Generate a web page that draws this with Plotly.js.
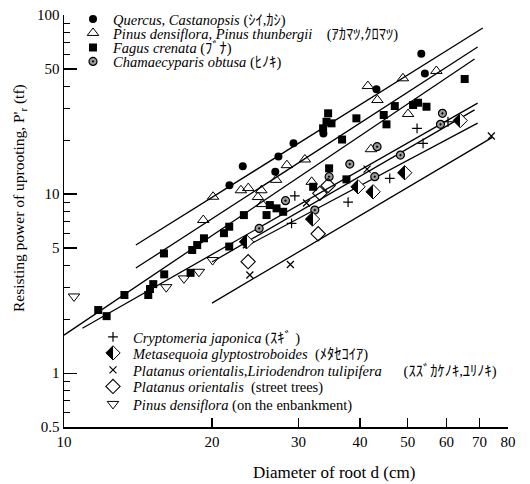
<!DOCTYPE html>
<html>
<head>
<meta charset="utf-8">
<script src="https://cdn.plot.ly/plotly-3.0.1.min.js"></script>
<style>html,body{margin:0;padding:0;background:#fff;}#chart{width:530px;height:484px;}</style>
</head>
<body>
<div id="chart"></div>
<script>
// ---- data (diameter d in cm, resisting power P'r in tf) ----
const quercusD = [21.7, 23.1, 26.9, 27.3, 29.3, 33.7, 43.2, 53.3, 54.2];
const quercusP = [11.2, 14.3, 13.3, 16.2, 19.2, 21.8, 38.5, 60.8, 47.2];

const pinusD = [19.2, 20.1, 22.9, 23.7, 25.2, 24.8, 25.3, 27.0, 28.4, 30.9, 31.9, 41.5, 42.1, 43.4, 48.9, 50.1, 57.2];
const pinusP = [7.16, 9.66, 10.5, 10.8, 10.5, 9.62, 8.79, 12.0, 14.5, 15.6, 11.7, 40.1, 17.8, 33.5, 44.3, 28.0, 48.7];

const fagusD = [11.74,12.21,13.27,14.84,14.96,15.19,15.99,15.97,18.09,18.23,18.66,19.26,21.15,21.68,21.68,23.22,25.82,26.22,27.06,27.91,32.12,34.61,37.54,36.78,34.45,34.19,33.65,35.0,39.33,44.70,45.28,47.08,51.29,52.50,54.61,65.31];
const fagusP = [2.25,2.08,2.73,2.73,2.95,3.14,3.56,4.66,3.63,4.87,5.19,5.66,6.05,6.57,5.09,7.63,7.63,8.68,8.32,7.96,10.98,13.92,12.08,20.16,28.24,25.34,23.28,24.83,26.48,27.63,24.51,31.01,31.42,32.36,30.74,43.90];

const chamD = [24.94,28.22,32.37,34.61,38.13,42.86,43.33,48.34,58.85,58.31];
const chamP = [6.43,9.18,8.14,12.50,14.71,12.50,18.38,16.51,28.24,24.51];

const cryptoD = [29.48,29.03,37.83,45.98,52.25,53.74,60.40];
const cryptoP = [9.78,6.86,9.02,12.24,23.28,19.20,25.34];

const metaD = [23.51,32.03,39.63,42.53,49.32,63.96];
const metaP = [5.41,7.25,10.98,10.30,13.15,25.74];

const platD = [23.88,28.87,31.14,41.35,74.0];
const platP = [3.53,4.04,8.91,13.79,21.09];

const streetD = [23.69,32.88,33.14,34.45];
const streetP = [4.19,6.00,10.09,11.15];

const embD = [10.48,16.14,17.54,18.81,20.06];
const embP = [2.68,3.02,3.38,3.68,4.28];

// regression lines: end points
const lineStartD = [14.0, 14.0, 10.0, 10.9, 20.0, 23.1, 20.0];
const lineStartP = [5.19, 3.86, 1.63, 1.78, 4.17, 4.99, 2.46];
const lineEndD   = [71.1, 69.4, 68.4, 69.4, 68.4, 69.4, 74.5];
const lineEndP   = [84.6, 66.3, 56.8, 32.2, 29.5, 24.9, 20.8];

const seriesNames = [
  '<i>Quercus, Castanopsis</i> (ｼｲ,ｶｼ)',
  '<i>Pinus densiflora, Pinus thunbergii</i>\u00a0\u00a0\u00a0\u00a0(ｱｶﾏﾂ,ｸﾛﾏﾂ)',
  '<i>Fagus crenata</i> (ﾌﾞﾅ)',
  '<i>Chamaecyparis obtusa</i> (ﾋﾉｷ)',
  '<i>Cryptomeria japonica</i> (ｽｷﾞ )',
  '<i>Metasequoia glyptostroboides</i>\u00a0 (ﾒﾀｾｺｲｱ)',
  '<i>Platanus orientalis,Liriodendron tulipifera</i>\u00a0\u00a0\u00a0\u00a0\u00a0\u00a0(ｽｽﾞｶｹﾉｷ,ﾕﾘﾉｷ)',
  '<i>Platanus orientalis</i>\u00a0 (street trees)',
  '<i>Pinus densiflora</i> (on the enbankment)'
];

const xTickVals = [10,20,30,40,50,60,70,80];
const yTickVals = [0.5,1,5,10,50,100];
const yMinorVals = [0.6,0.7,0.8,0.9,2,3,4,6,7,8,9,20,30,40,60,70,80,90];

// ---- layout geometry (pixels) ----
const W = 530, H = 484;
const M = {l:64, r:22, t:15, b:57};
const PW = W - M.l - M.r, PH = H - M.t - M.b;
const px2x = p => (p - M.l) / PW;
const py2y = p => (H - M.b - p) / PH;

const FONT = 'Liberation Serif, "Noto Sans CJK JP", serif';

const markerStyles = [
  {symbol:'circle', size:8, color:'black'},
  {symbol:'triangle-up-open', size:10, color:'black', line:{width:1, color:'black'}},
  {symbol:'square', size:8, color:'black'},
  {symbol:'circle-dot', size:8, color:'#9a9a9a', line:{width:1.2, color:'black'}},
  {symbol:'cross-thin-open', size:7, color:'black', line:{width:1.2, color:'black'}},
  {symbol:'diamond', size:11, color:'black', line:{width:1, color:'black'}, gradient:{type:'horizontal', color:'white'}},
  {symbol:'x-thin-open', size:7, color:'black', line:{width:1.2, color:'black'}},
  {symbol:'diamond-open', size:11, color:'black', line:{width:1.1, color:'black'}},
  {symbol:'triangle-down-open', size:10, color:'black', line:{width:1, color:'black'}}
];
const seriesD = [quercusD, pinusD, fagusD, chamD, cryptoD, metaD, platD, streetD, embD];
const seriesP = [quercusP, pinusP, fagusP, chamP, cryptoP, metaP, platP, streetP, embP];

// legend row positions (pixels): left edge of legend box, row centre
const legLeft = [73,73,73,73, 93,93,93,93,93];
const legRowY = [19,33,47.5,61.5, 337,353,370,386.5,404];

const traces = [];
for (let i = 0; i < lineStartD.length; i++) {
  traces.push({
    x: [lineStartD[i], lineEndD[i]], y: [lineStartP[i], lineEndP[i]],
    mode: 'lines', line: {color:'black', width:1.3}, showlegend: false, hoverinfo:'skip'
  });
}
const layout = {
  width: W, height: H,
  margin: {l:M.l, r:M.r, t:M.t, b:M.b, autoexpand:false},
  paper_bgcolor: 'white', plot_bgcolor: 'white',
  font: {family: FONT, color: 'black', size: 15},
  xaxis: {
    type:'log', range:[1, Math.log10(80)], showline:true, linecolor:'black', linewidth:1.5,
    ticks:'inside', ticklen:9, tickwidth:1.2, tickcolor:'black', showgrid:false, zeroline:false,
    tickmode:'array', tickvals: xTickVals, ticktext: xTickVals.map(String),
    tickfont:{family:FONT, size:15, color:'black'}
  },
  yaxis: {
    type:'log', range:[Math.log10(0.5), 2], showline:true, linecolor:'black', linewidth:1.5,
    ticks:'inside', ticklen:13, tickwidth:1.2, tickcolor:'black', showgrid:false, zeroline:false,
    tickmode:'array', tickvals: yTickVals, ticktext: yTickVals.map(String),
    tickfont:{family:FONT, size:15, color:'black'},
    minor:{tickmode:'array', tickvals: yMinorVals, ticks:'inside', ticklen:6, tickwidth:1, tickcolor:'black', showgrid:false}
  },
  annotations: [
    {text:"Resisting power of uprooting, P'<sub>r</sub> (tf)", textangle:-90, xref:'paper', yref:'paper',
     x: px2x(19), y: py2y(198), xanchor:'center', yanchor:'middle', showarrow:false,
     font:{family:FONT, size:15.5, color:'black'}},
    {text:'Diameter of root d (cm)', xref:'paper', yref:'paper', x: px2x(334), y: py2y(472),
     xanchor:'center', yanchor:'middle', showarrow:false, font:{family:FONT, size:17, color:'black'}}
  ],
  showlegend: true
};
for (let i = 0; i < seriesD.length; i++) {
  const key = i === 0 ? 'legend' : 'legend' + (i + 1);
  traces.push({
    x: seriesD[i], y: seriesP[i], mode:'markers', name: seriesNames[i],
    marker: markerStyles[i], legend: key, hoverinfo:'skip', cliponaxis:false
  });
  layout[key] = {
    x: px2x(legLeft[i]), y: py2y(legRowY[i]), xanchor:'left', yanchor:'middle',
    bgcolor:'rgba(0,0,0,0)', borderwidth:0, font:{family:FONT, size:14.5, color:'black'},
    itemclick:false, itemdoubleclick:false
  };
}

const gd = document.getElementById('chart');
Plotly.newPlot(gd, traces, layout, {staticPlot:true, displayModeBar:false}).then(function(){
  // turn the smooth horizontal gradient into a sharp half-filled diamond
  gd.querySelectorAll('linearGradient').forEach(function(g){
    g.querySelectorAll('stop').forEach(function(s){ s.setAttribute('offset','50%'); });
  });
});
</script>
</body>
</html>
